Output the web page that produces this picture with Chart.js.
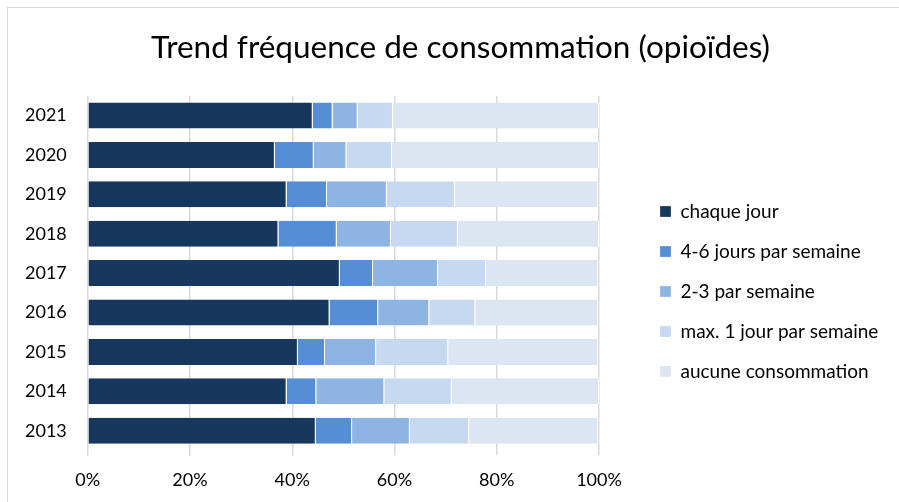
<!DOCTYPE html>
<html>
<head>
<meta charset="utf-8">
<script src="https://cdn.jsdelivr.net/npm/chart.js@4.4.1/dist/chart.umd.min.js"></script>
<style>
  html, body { margin: 0; padding: 0; background: #fff; }
  #wrap { position: relative; width: 899px; height: 502px; overflow: hidden; }
  #frame { position: absolute; left: 7px; top: 7px; width: 1000px; height: 1000px; border: 1.5px solid #d9d9d9; }
  #c { position: absolute; left: 0; top: 0; }
</style>
</head>
<body>
<div id="wrap">
  <div id="frame"></div>
  <canvas id="c" width="899" height="502"></canvas>
</div>
<script>
// categories, top to bottom
var years = ["2021", "2020", "2019", "2018", "2017", "2016", "2015", "2014", "2013"];

// shares in %, same order as years
var chaqueJour   = [44.0, 36.6, 38.9, 37.3, 49.3, 47.3, 41.1, 38.9, 44.6];
var quatreSix    = [3.9, 7.6, 7.9, 11.4, 6.5, 9.5, 5.3, 5.8, 7.1];
var deuxTrois    = [4.9, 6.4, 11.7, 10.6, 12.7, 10.0, 10.0, 13.3, 11.3];
var maxUnJour    = [6.9, 8.9, 13.3, 13.1, 9.4, 9.0, 14.1, 13.2, 11.6];
var aucune       = [40.3, 40.5, 28.1, 27.6, 22.0, 24.1, 29.4, 28.8, 25.3];

var xTicks = [0, 20, 40, 60, 80, 100];

var font = "Lato, 'Open Sans', sans-serif";

function ds(label, data, color) {
  return {
    label: label,
    data: data,
    backgroundColor: color,
    borderColor: "#ffffff",
    borderWidth: { left: 0, right: 1, top: 0, bottom: 0 },
    borderSkipped: false,
    barPercentage: 0.66,
    categoryPercentage: 1.0
  };
}

// legend sits lower and further right than chart.js would put it,
// title is centred on the frame rather than the canvas
var nudge = {
  id: "nudge",
  afterLayout: function (chart) {
    var lg = chart.legend;
    lg.left += 40;
    lg.top += 39;
    lg.bottom += 39;
    var tb = chart.titleBlock;
    tb.left += 9;
    tb.right += 9;
  }
};

var chart = new Chart(document.getElementById("c"), {
  type: "bar",
  data: {
    labels: years,
    datasets: [
      ds("chaque jour", chaqueJour, "#17375e"),
      ds("4-6 jours par semaine", quatreSix, "#558ed5"),
      ds("2-3 par semaine", deuxTrois, "#8eb4e3"),
      ds("max. 1 jour par semaine", maxUnJour, "#c6d9f1"),
      ds("aucune consommation", aucune, "#dce6f2")
    ]
  },
  plugins: [nudge],
  options: {
    indexAxis: "y",
    responsive: false,
    animation: false,
    layout: { padding: { left: 4, right: 0, top: 0, bottom: -3 } },
    plugins: {
      title: {
        display: true,
        text: "Trend fréquence de consommation (opioïdes)",
        color: "#000",
        font: { family: font, size: 31.5, weight: "normal" },
        padding: { top: 29, bottom: 29 }
      },
      legend: {
        position: "right",
        labels: {
          color: "#000",
          font: { family: font, size: 19 },
          boxWidth: 11,
          boxHeight: 11,
          padding: 21
        }
      },
      tooltip: { enabled: false }
    },
    scales: {
      x: {
        stacked: true,
        min: 0,
        max: 100,
        afterBuildTicks: function (axis) {
          axis.ticks = xTicks.map(function (v) { return { value: v }; });
        },
        ticks: {
          color: "#000",
          font: { family: font, size: 18 },
          padding: 14,
          callback: function (v) { return v + "%"; }
        },
        grid: { color: "#d9d9d9", lineWidth: 1.5, tickLength: 5 },
        border: { display: false }
      },
      y: {
        stacked: true,
        ticks: {
          color: "#000",
          font: { family: font, size: 18 },
          padding: 21
        },
        grid: { display: false, drawTicks: false },
        border: { display: false }
      }
    }
  }
});

// legend band from the plot's right edge to the canvas edge
var baseFit = chart.legend.fit;
chart.legend.fit = function () {
  baseFit.call(this);
  this.width = 300;
};
chart.update();
</script>
</body>
</html>
